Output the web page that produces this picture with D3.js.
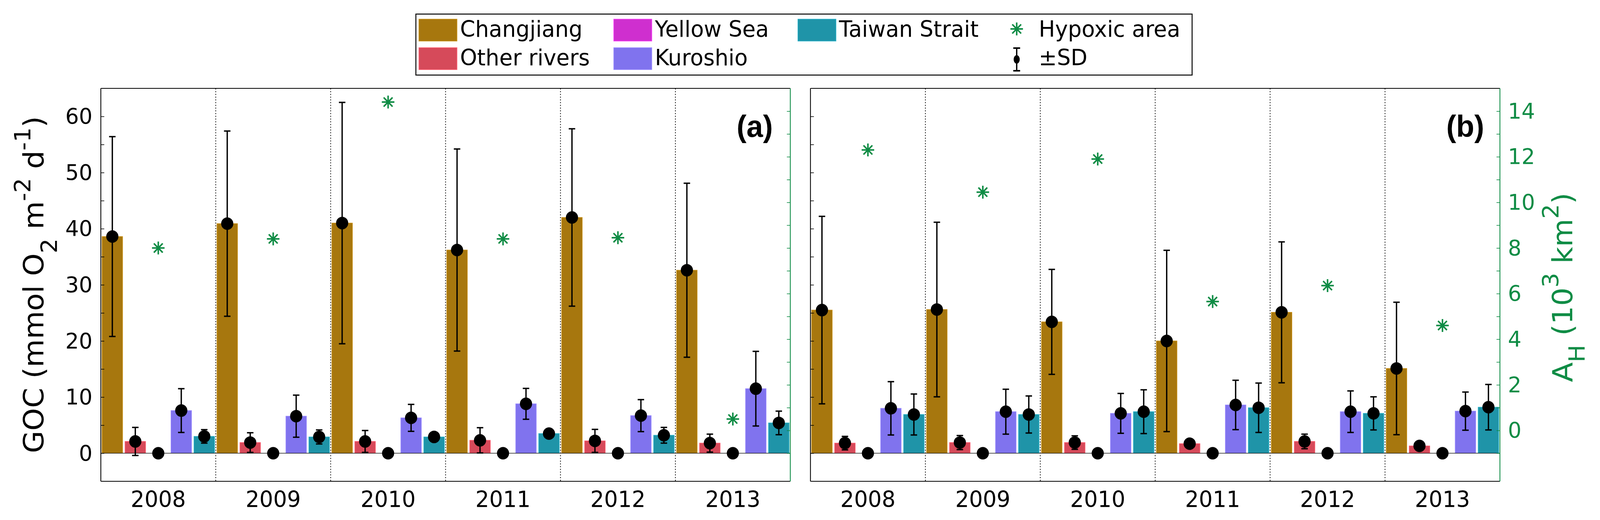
<!DOCTYPE html>
<html>
<head>
<meta charset="utf-8">
<script src="https://cdn.jsdelivr.net/npm/d3@7"></script>
<style>
  body { margin: 0; background: #fff; overflow: hidden; }
  svg { display: block; font-family: "DejaVu Sans", sans-serif; }
</style>
</head>
<body>
<script>
// ---- values ----
const years = ['2008', '2009', '2010', '2011', '2012', '2013'];
const sources = ['Changjiang', 'Other rivers', 'Yellow Sea', 'Kuroshio', 'Taiwan Strait'];
const sourceColors = ['#a7770e', '#d64a5a', '#cf2fcf', '#8073ee', '#1f94a8'];
const hypoxicColor = '#0f8c45';

// panel (a): GOC means and SDs (mmol O2 m-2 d-1)
const changjiangA = [38.6, 40.9, 41.0, 36.2, 42.0, 32.6];
const otherRiversA = [2.1, 1.9, 2.1, 2.3, 2.2, 1.8];
const yellowSeaA = [0, 0, 0, 0, 0, 0];
const kuroshioA = [7.6, 6.6, 6.3, 8.8, 6.7, 11.5];
const taiwanStraitA = [3.0, 2.9, 2.9, 3.5, 3.2, 5.4];
const changjiangSdA = [17.8, 16.5, 21.5, 18.0, 15.8, 15.5];
const otherRiversSdA = [2.5, 1.75, 1.95, 2.25, 2.05, 1.6];
const yellowSeaSdA = [0, 0, 0, 0, 0, 0];
const kuroshioSdA = [3.9, 3.75, 2.4, 2.75, 2.85, 6.65];
const taiwanStraitSdA = [1.2, 1.25, 0.6, 0.6, 1.4, 2.1];
const hypoxicA = [8.0, 8.4, 14.4, 8.4, 8.45, 0.5];

// panel (b)
const changjiangB = [25.5, 25.6, 23.4, 20.0, 25.1, 15.1];
const otherRiversB = [1.8, 1.9, 1.9, 1.7, 2.1, 1.3];
const yellowSeaB = [0, 0, 0, 0, 0, 0];
const kuroshioB = [8.0, 7.4, 7.1, 8.6, 7.4, 7.5];
const taiwanStraitB = [6.9, 6.9, 7.4, 8.1, 7.1, 8.2];
const changjiangSdB = [16.7, 15.55, 9.35, 16.15, 12.55, 11.8];
const otherRiversSdB = [1.2, 1.25, 1.2, 0.6, 1.3, 0.4];
const yellowSeaSdB = [0, 0, 0, 0, 0, 0];
const kuroshioSdB = [4.75, 4.0, 3.55, 4.4, 3.7, 3.4];
const taiwanStraitSdB = [3.65, 3.3, 3.9, 4.4, 2.95, 4.05];
const hypoxicB = [12.3, 10.45, 11.9, 5.65, 6.35, 4.6];

// axis ticks
const gocTicks = [0, 5, 10, 15, 20, 25, 30, 35, 40, 45, 50, 55, 60];
const areaTicks = [-1, 0, 1, 2, 3, 4, 5, 6, 7, 8, 9, 10, 11, 12, 13, 14];

// ---- layout ----
// drawn in a 4205x1330 frame, stretched to whatever the viewport really is
const W = 4205, H = 1330;
const plotTop = 226, plotBottom = 1231;
const black = '#000';

const svg = d3.select('body').append('svg')
  .attr('viewBox', `0 0 ${W} ${H}`)
  .attr('preserveAspectRatio', 'none')
  .attr('width', window.innerWidth || W)
  .attr('height', window.innerHeight || H);

svg.append('rect').attr('width', W).attr('height', H).attr('fill', '#fff');

// both panels share the same two y scales
const yL = d3.scaleLinear().domain([-5, 65]).range([plotBottom, plotTop]);
const yR = d3.scaleLinear().domain([-2.23, 15]).range([plotBottom, plotTop]);

// 8-spoke asterisk like MATLAB's '*' marker
function asteriskPath(r) {
  const k = r * 0.707;
  return `M${-r},0L${r},0M0,${-r}L0,${r}M${-k},${-k}L${k},${k}M${-k},${k}L${k},${-k}`;
}

function drawPanel(p) {
  const g = svg.append('g');

  const x0 = d3.scaleBand().domain(years).range([p.left, p.right]);
  const x1 = d3.scaleBand().domain(sources)
    .range([0, x0.bandwidth()])
    .paddingInner(0.106)
    .paddingOuter(0.053);

  let rows = [];
  years.forEach((yr, i) => {
    sources.forEach((s, j) => {
      rows.push({year: yr, source: s, color: sourceColors[j],
                 mean: p.means[j][i], sd: p.sds[j][i]});
    });
  });
  const cx = d => x0(d.year) + x1(d.source) + x1.bandwidth() / 2;

  // bars
  g.selectAll('rect.bar')
    .data(rows).enter().append('rect')
    .attr('class', 'bar')
    .attr('x', d => x0(d.year) + x1(d.source))
    .attr('width', x1.bandwidth())
    .attr('y', d => yL(Math.max(d.mean, 0)))
    .attr('height', d => Math.abs(yL(d.mean) - yL(0)))
    .attr('fill', d => d.color)
    .attr('stroke', d => d3.color(d.color).brighter(0.5))
    .attr('stroke-width', 1.5);

  // bar baseline
  g.append('line')
    .attr('x1', p.left).attr('x2', p.right)
    .attr('y1', yL(0)).attr('y2', yL(0))
    .attr('stroke', '#222').attr('stroke-width', 1.6);

  // dotted separators between years
  g.selectAll('line.sep')
    .data(years.slice(1)).enter().append('line')
    .attr('class', 'sep')
    .attr('x1', d => x0(d)).attr('x2', d => x0(d))
    .attr('y1', plotTop).attr('y2', plotBottom)
    .attr('stroke', '#222').attr('stroke-width', 2)
    .attr('stroke-dasharray', '3,4');

  // error bars
  let withSd = rows.filter(d => d.sd > 0);
  g.selectAll('line.err')
    .data(withSd).enter().append('line')
    .attr('class', 'err')
    .attr('x1', cx).attr('x2', cx)
    .attr('y1', d => yL(d.mean - d.sd))
    .attr('y2', d => yL(d.mean + d.sd))
    .attr('stroke', black).attr('stroke-width', 3.5);
  ['lo', 'hi'].forEach(end => {
    g.selectAll('line.cap' + end)
      .data(withSd).enter().append('line')
      .attr('x1', d => cx(d) - 8.5).attr('x2', d => cx(d) + 8.5)
      .attr('y1', d => yL(end == 'lo' ? d.mean - d.sd : d.mean + d.sd))
      .attr('y2', d => yL(end == 'lo' ? d.mean - d.sd : d.mean + d.sd))
      .attr('stroke', black).attr('stroke-width', 3.5);
  });
  g.selectAll('circle.mean')
    .data(rows).enter().append('circle')
    .attr('cx', cx)
    .attr('cy', d => yL(d.mean))
    .attr('r', 16)
    .attr('fill', black);

  // hypoxic area on the right axis, centred on each year group
  g.selectAll('path.hyp')
    .data(p.hypoxic).enter().append('path')
    .attr('transform', (d, i) =>
      `translate(${x0(years[i]) + x0.bandwidth() / 2},${yR(d)})`)
    .attr('d', asteriskPath(16.5))
    .attr('stroke', hypoxicColor).attr('stroke-width', 4)
    .attr('fill', 'none');

  // left axis (labels only on panel a)
  let left = g.append('g')
    .attr('transform', `translate(${p.left},0)`)
    .call(d3.axisLeft(yL)
      .tickValues(gocTicks)
      .tickSizeInner(-9).tickSizeOuter(0).tickPadding(22)
      .tickFormat(d => (p.leftLabels && d % 10 === 0) ? d : ''));
  left.select('.domain').remove();
  left.selectAll('line').attr('stroke', black).attr('stroke-width', 1.6);
  left.attr('font-size', 56).attr('font-family', 'DejaVu Sans');

  // right axis (labels only on panel b)
  let right = g.append('g')
    .attr('transform', `translate(${p.right},0)`)
    .call(d3.axisRight(yR)
      .tickValues(areaTicks)
      .tickSizeInner(-9).tickSizeOuter(0).tickPadding(21)
      .tickFormat(d => (p.rightLabels && d >= 0 && d % 2 === 0) ? d : ''));
  right.select('.domain').remove();
  right.selectAll('line').attr('stroke', hypoxicColor).attr('stroke-width', 1.6);
  right.selectAll('text').attr('fill', hypoxicColor);
  right.attr('font-size', 56).attr('font-family', 'DejaVu Sans');

  // year labels
  let xa = g.append('g')
    .attr('transform', `translate(0,${plotBottom})`)
    .call(d3.axisBottom(x0).tickSize(0).tickPadding(26));
  xa.select('.domain').remove();
  xa.attr('font-size', 57).attr('font-family', 'DejaVu Sans');
  xa.selectAll('text').attr('fill', black);

  // frame
  const frame = [
    [p.left, plotTop, p.right, plotTop, black],
    [p.left, plotBottom, p.right, plotBottom, black],
    [p.left, plotTop, p.left, plotBottom, black],
    [p.right, plotTop, p.right, plotBottom, hypoxicColor]
  ];
  g.selectAll('line.frame')
    .data(frame).enter().append('line')
    .attr('x1', d => d[0]).attr('y1', d => d[1])
    .attr('x2', d => d[2]).attr('y2', d => d[3])
    .attr('stroke', d => d[4]).attr('stroke-width', 2.2);

  // panel tag
  g.append('text')
    .attr('x', p.left + 1671).attr('y', 350)
    .attr('font-family', 'Liberation Sans, Arial, sans-serif')
    .attr('font-weight', 'bold')
    .attr('font-size', 78)
    .text(p.tag);
}

drawPanel({
  left: 265, right: 2077, tag: '(a)', leftLabels: true, rightLabels: false,
  means: [changjiangA, otherRiversA, yellowSeaA, kuroshioA, taiwanStraitA],
  sds: [changjiangSdA, otherRiversSdA, yellowSeaSdA, kuroshioSdA, taiwanStraitSdA],
  hypoxic: hypoxicA
});
drawPanel({
  left: 2130, right: 3942, tag: '(b)', leftLabels: false, rightLabels: true,
  means: [changjiangB, otherRiversB, yellowSeaB, kuroshioB, taiwanStraitB],
  sds: [changjiangSdB, otherRiversSdB, yellowSeaSdB, kuroshioSdB, taiwanStraitSdB],
  hypoxic: hypoxicB
});

// axis titles with sub/superscripts
function richText(x, y, parts, color, size) {
  let t = svg.append('text')
    .attr('transform', `translate(${x},${y}) rotate(-90)`)
    .attr('text-anchor', 'middle')
    .attr('font-size', size)
    .attr('fill', color);
  parts.forEach(pt => {
    t.append('tspan')
      .attr('dy', pt.dy || 0)
      .attr('font-size', pt.small ? size * 0.8 : size)
      .text(pt.t);
  });
  return t;
}

richText(114, 728, [
  {t: 'GOC (mmol O'}, {t: '2', dy: 36, small: true}, {t: ' m', dy: -36},
  {t: '-2', dy: -34, small: true}, {t: ' d', dy: 34},
  {t: '-1', dy: -34, small: true}, {t: ')', dy: 34}
], black, 74);

richText(4132, 735, [
  {t: 'A'}, {t: 'H', dy: 33, small: true}, {t: ' (10', dy: -33},
  {t: '3', dy: -36, small: true}, {t: ' km', dy: 36},
  {t: '2', dy: -36, small: true}, {t: ')', dy: 36}
], hypoxicColor, 74);

// ---- legend ----
const legend = svg.append('g');
legend.append('rect')
  .attr('x', 1093).attr('y', 36)
  .attr('width', 2040).attr('height', 156)
  .attr('fill', '#fff').attr('stroke', black).attr('stroke-width', 2.5);

const colX = [1101, 1613, 2097];
const rowY = [49, 122];
let swatches = sources.map((s, j) => ({
  name: s, color: sourceColors[j],
  x: colX[Math.floor(j / 2)], y: rowY[j % 2]
}));
legend.selectAll('rect.sw')
  .data(swatches).enter().append('rect')
  .attr('x', d => d.x).attr('y', d => d.y)
  .attr('width', 100).attr('height', 56)
  .attr('fill', d => d.color)
  .attr('stroke', d => d3.color(d.color).brighter(0.5)).attr('stroke-width', 1.5);
legend.selectAll('text.sw')
  .data(swatches).enter().append('text')
  .attr('x', d => d.x + 108).attr('y', d => d.y + 45)
  .attr('font-size', 57)
  .text(d => d.name);

// hypoxic marker entry
legend.append('path')
  .attr('transform', 'translate(2672,74)')
  .attr('d', asteriskPath(16.5))
  .attr('stroke', hypoxicColor).attr('stroke-width', 4).attr('fill', 'none');
legend.append('text').attr('x', 2730).attr('y', 94).attr('font-size', 57).text('Hypoxic area');

// ±SD entry
legend.append('line').attr('x1', 2672).attr('x2', 2672).attr('y1', 123).attr('y2', 181)
  .attr('stroke', black).attr('stroke-width', 3.5);
[123, 181].forEach(yy => legend.append('line')
  .attr('x1', 2663).attr('x2', 2681).attr('y1', yy).attr('y2', yy)
  .attr('stroke', black).attr('stroke-width', 4));
legend.append('ellipse').attr('cx', 2672).attr('cy', 152).attr('rx', 8).attr('ry', 11).attr('fill', black);
legend.append('text').attr('x', 2730).attr('y', 167).attr('font-size', 57).text('\u00b1SD');
</script>
</body>
</html>
